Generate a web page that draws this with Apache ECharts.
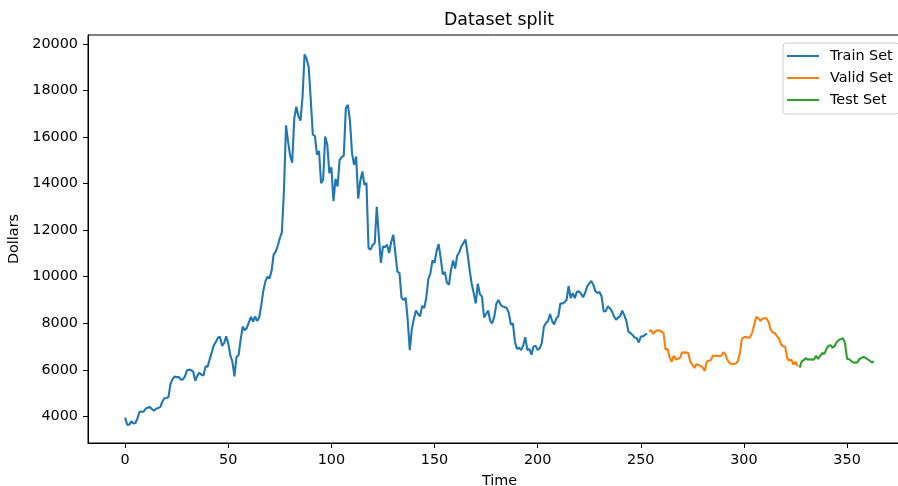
<!DOCTYPE html>
<html>
<head>
<meta charset="utf-8">
<script src="https://cdn.jsdelivr.net/npm/echarts@6/dist/echarts.min.js"></script>
<style>
html,body{margin:0;padding:0;background:#fff;}
#chart{width:898px;height:486px;}
</style>
</head>
<body>
<div id="chart"></div>
<script>
// ---- data ----
const trainStart = 0;
const trainValues = [
  3950, 3640, 3650, 3790, 3700, 3720, 3930, 4200, 4210, 4200,
  4340, 4380, 4400, 4320, 4250, 4330, 4360, 4400, 4620, 4780,
  4790, 4830, 5400, 5600, 5720, 5680, 5700, 5580, 5590, 5720,
  5980, 6010, 5990, 5920, 5530, 5750, 5880, 5790, 5760, 6150,
  6140, 6460, 6750, 7060, 7200, 7380, 7420, 7030, 7150, 7440,
  7140, 6620, 6350, 5720, 6560, 6630, 7300, 7860, 7700, 7800,
  8040, 8280, 8070, 8290, 8100, 8250, 8780, 9400, 9800, 10000,
  9930, 10250, 10950, 11080, 11330, 11660, 11920, 13700, 16500, 15800,
  15200, 14900, 16800, 17300, 16900, 16700, 17700, 19550, 19350, 19000,
  17600, 16100, 16050, 15240, 15400, 14020, 14160, 16020, 15670, 14450,
  14700, 13250, 14200, 13880, 15020, 15140, 15200, 17240, 17380, 16700,
  15300, 14810, 15160, 13350, 14100, 14520, 13950, 14020, 11230, 11160,
  11370, 11440, 13000, 11730, 10590, 11300, 11280, 11370, 11020, 11500,
  11800, 11020, 10220, 10160, 9100, 9000, 9100, 8150, 6850, 7750,
  8200, 8550, 8400, 8300, 8750, 8650, 9100, 9900, 10150, 10700,
  10600, 11100, 11400, 10800, 10100, 10200, 9750, 9650, 10300, 10700,
  10350, 10900, 11050, 11300, 11450, 11600, 11000, 10300, 9700, 9300,
  8850, 9700, 9250, 9150, 8250, 8400, 8550, 8100, 8000, 8300,
  8850, 9000, 8800, 8720, 8700, 8650, 8450, 7950, 8000, 7200,
  6900, 6950, 6850, 7050, 7400, 6850, 6900, 6650, 7000, 7040,
  6850, 6930, 7150, 7850, 8000, 8100, 8400, 8100, 7950, 8200,
  8300, 8850, 8850, 8900, 9000, 9600, 9080, 9300, 9080, 9350,
  9370, 9280, 9120, 9300, 9580, 9700, 9820, 9650, 9380, 9300,
  9350, 9150, 8510, 8520, 8730, 8650, 8510, 8300, 8150, 8250,
  8300, 8540, 8350, 8100, 7650, 7580, 7500, 7390, 7370, 7175,
  7430, 7440, 7500, 7560
];
const validStart = 254;
const validValues = [
  7650, 7700, 7550, 7650, 7700, 7690, 7640, 7600, 6870, 6900,
  6550, 6350, 6600, 6450, 6480, 6520, 6750, 6740, 6750, 6720,
  6350, 6230, 6080, 6250, 6200, 6180, 6100, 5950, 6350, 6400,
  6420, 6620, 6600, 6620, 6580, 6610, 6760, 6680, 6420, 6300,
  6250, 6250, 6270, 6370, 6700, 7320, 7400, 7420, 7380, 7400,
  7600, 7950, 8280, 8220, 8100, 8200, 8230, 8200, 8050, 7720,
  7600, 7580, 7450, 7350, 7100, 7010, 7000, 6500, 6400, 6440,
  6230, 6350, 6150
];
const testStart = 327;
const testValues = [
  6100, 6360, 6420, 6500, 6440, 6460, 6440, 6450, 6600, 6470,
  6620, 6720, 6690, 6900, 7040, 7060, 6950, 7030, 7200, 7280,
  7320, 7360, 7150, 6470, 6460, 6380, 6320, 6310, 6320, 6460,
  6520, 6550, 6520, 6450, 6400, 6320, 6360
];
const seriesNames = ['Train Set', 'Valid Set', 'Test Set'];
const xTicks = [0, 50, 100, 150, 200, 250, 300, 350];
const yTicks = [4000, 6000, 8000, 10000, 12000, 14000, 16000, 18000, 20000];

// ---- chart ----
const FONT = 'DejaVu Sans';
const FS = 14.4;
const toPairs = (vals, start) => vals.map((v, i) => [start + i, v]);
const chart = echarts.init(document.getElementById('chart'), null, {renderer: 'canvas'});
const mkSeries = (name, vals, start, color) => ({
  name: name, type: 'line', data: toPairs(vals, start),
  showSymbol: false, symbol: 'none', clip: true,
  lineStyle: {color: color, width: 2.1}, itemStyle: {color: color},
  emphasis: {disabled: true}
});
const option = {
  animation: false,
  backgroundColor: '#ffffff',
  textStyle: {fontFamily: FONT},
  title: {
    text: 'Dataset split', left: 499, top: 12, textAlign: 'center', padding: 0,
    textStyle: {fontFamily: FONT, fontSize: 17.4, fontWeight: 'normal', color: '#000'}
  },
  grid: {left: 88, top: 35, width: 823, height: 408, show: true,
         containLabel: false, outerBoundsMode: 'none',
         borderColor: '#000', borderWidth: 1, backgroundColor: 'transparent'},
  legend: {
    orient: 'vertical', left: 783, top: 43,
    padding: [6, 6, 7, 4], itemGap: 8, itemWidth: 32, itemHeight: 2,
    icon: 'rect',
    backgroundColor: 'rgba(255,255,255,0.8)', borderColor: '#cccccc', borderWidth: 1, borderRadius: 3,
    textStyle: {fontFamily: FONT, fontSize: FS, lineHeight: 14, color: '#000', padding: [0, 0, 0, 6]},
    data: seriesNames
  },
  xAxis: {
    type: 'value', min: -18, max: 381,
    name: 'Time', nameLocation: 'middle', nameGap: 31,
    nameTextStyle: {fontFamily: FONT, fontSize: FS, color: '#000'},
    axisLine: {show: true, onZero: false, lineStyle: {color: '#000', width: 1}},
    axisTick: {show: true, length: 5, lineStyle: {color: '#000', width: 1}, customValues: xTicks},
    axisLabel: {show: true, margin: 10, fontFamily: FONT, fontSize: FS, color: '#000',
                customValues: xTicks, formatter: v => String(v)},
    splitLine: {show: false}
  },
  yAxis: {
    type: 'value', min: 2860, max: 20380,
    name: 'Dollars', nameLocation: 'middle', nameGap: 57, nameRotate: 90,
    nameTextStyle: {fontFamily: FONT, fontSize: FS, color: '#000'},
    axisLine: {show: true, onZero: false, lineStyle: {color: '#000', width: 1}},
    axisTick: {show: true, length: 5, lineStyle: {color: '#000', width: 1}, customValues: yTicks},
    axisLabel: {show: true, margin: 10, fontFamily: FONT, fontSize: FS, color: '#000',
                customValues: yTicks, formatter: v => String(v)},
    splitLine: {show: false}
  },
  series: [
    mkSeries(seriesNames[0], trainValues, trainStart, '#1f77b4'),
    mkSeries(seriesNames[1], validValues, validStart, '#ff7f0e'),
    mkSeries(seriesNames[2], testValues, testStart, '#2ca02c')
  ]
};
chart.setOption(option);
</script>
</body>
</html>
